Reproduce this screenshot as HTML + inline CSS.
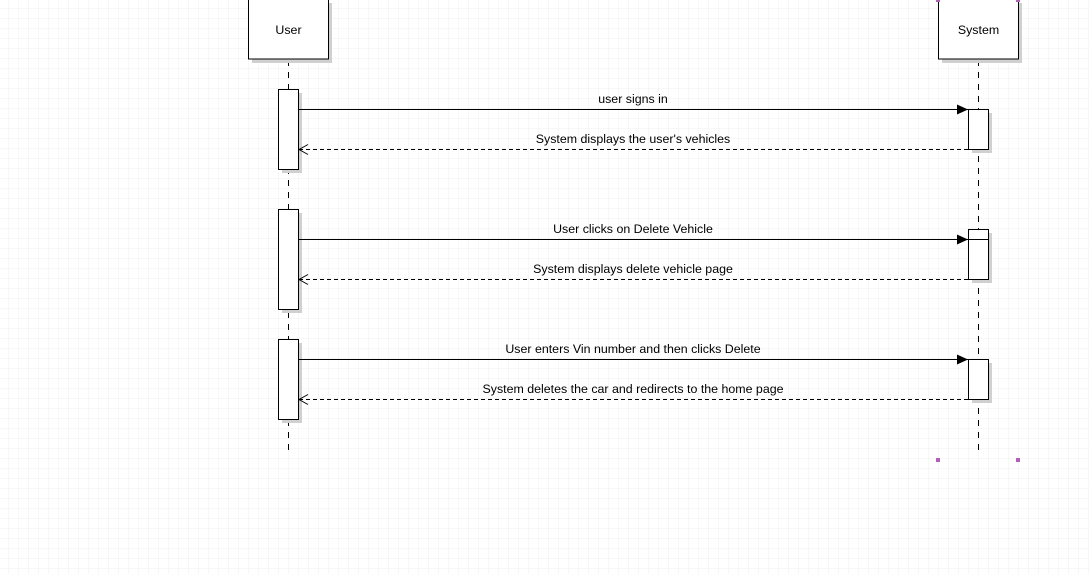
<!DOCTYPE html>
<html><head><style>
html,body{margin:0;padding:0;background:#fff;}
svg{display:block;}
text{font-family:"Liberation Sans",sans-serif;font-size:12.4px;fill:#000;}
</style></head><body>
<svg width="1089" height="574" xmlns="http://www.w3.org/2000/svg">
<defs>
<pattern id="g" x="8" y="8" width="10" height="10" patternUnits="userSpaceOnUse">
<path d="M0 0H10M0 0V10" stroke="#efefef" stroke-width="1" fill="none"/>
</pattern>
<marker id="af" markerWidth="12" markerHeight="12" refX="11" refY="6" orient="auto" markerUnits="userSpaceOnUse">
<path d="M0,1 L11,6 L0,11 Z" fill="#000"/>
</marker>
<marker id="ao" markerWidth="12" markerHeight="12" refX="10" refY="6" orient="auto" markerUnits="userSpaceOnUse">
<path d="M1,1 L10,6 L1,11" fill="none" stroke="#000"/>
</marker>
</defs>
<rect width="1089" height="574" fill="url(#g)"/>
<line x1="288.5" y1="60" x2="288.5" y2="456" stroke="#000" stroke-dasharray="6,6"/>
<line x1="978.5" y1="60" x2="978.5" y2="456" stroke="#000" stroke-dasharray="6,6"/>
<rect x="252" y="3" width="80" height="60" fill="#d0d0d0"/>
<rect x="248.5" y="-1" width="80" height="60" fill="#fff" stroke="#000"/>
<text x="288.5" y="34" text-anchor="middle">User</text>
<rect x="942" y="3" width="80" height="60" fill="#d0d0d0"/>
<rect x="938.5" y="-1" width="80" height="60" fill="#fff" stroke="#000"/>
<text x="978.5" y="34" text-anchor="middle">System</text>
<g fill="#fff" stroke="#000">
<rect x="282" y="93" width="20" height="80" fill="#d0d0d0" stroke="none"/>
<rect x="278.5" y="89.5" width="20" height="80"/>
<rect x="282" y="213" width="20" height="100" fill="#d0d0d0" stroke="none"/>
<rect x="278.5" y="209.5" width="20" height="100"/>
<rect x="282" y="343" width="20" height="80" fill="#d0d0d0" stroke="none"/>
<rect x="278.5" y="339.5" width="20" height="80"/>
<rect x="972" y="113" width="20" height="40" fill="#d0d0d0" stroke="none"/>
<rect x="968.5" y="109.5" width="20" height="40"/>
<rect x="972" y="233" width="20" height="50" fill="#d0d0d0" stroke="none"/>
<rect x="968.5" y="229.5" width="20" height="50"/>
<rect x="972" y="363" width="20" height="40" fill="#d0d0d0" stroke="none"/>
<rect x="968.5" y="359.5" width="20" height="40"/>
</g>
<line x1="968.5" y1="239.5" x2="988.5" y2="239.5" stroke="#000"/>
<g stroke="#000" fill="none">
<line x1="299" y1="109.5" x2="968" y2="109.5" marker-end="url(#af)"/>
<line x1="968" y1="149.5" x2="299" y2="149.5" stroke-dasharray="4,3" marker-end="url(#ao)"/>
<line x1="299" y1="239.5" x2="968" y2="239.5" marker-end="url(#af)"/>
<line x1="968" y1="279.5" x2="299" y2="279.5" stroke-dasharray="4,3" marker-end="url(#ao)"/>
<line x1="299" y1="359.5" x2="968" y2="359.5" marker-end="url(#af)"/>
<line x1="968" y1="399.5" x2="299" y2="399.5" stroke-dasharray="4,3" marker-end="url(#ao)"/>
</g>
<text x="633" y="103" text-anchor="middle">user signs in</text>
<text x="633" y="143" text-anchor="middle">System displays the user's vehicles</text>
<text x="633" y="233" text-anchor="middle">User clicks on Delete Vehicle</text>
<text x="633" y="273" text-anchor="middle">System displays delete vehicle page</text>
<text x="633" y="353" text-anchor="middle">User enters Vin number and then clicks Delete</text>
<text x="633" y="393" text-anchor="middle">System deletes the car and redirects to the home page</text>
<g fill="#b060b8">
<rect x="936" y="-2" width="4" height="4"/>
<rect x="1016" y="-2" width="4" height="4"/>
<rect x="936" y="458" width="4" height="4"/>
<rect x="1016" y="458" width="4" height="4"/>
</g>
</svg>
</body></html>
